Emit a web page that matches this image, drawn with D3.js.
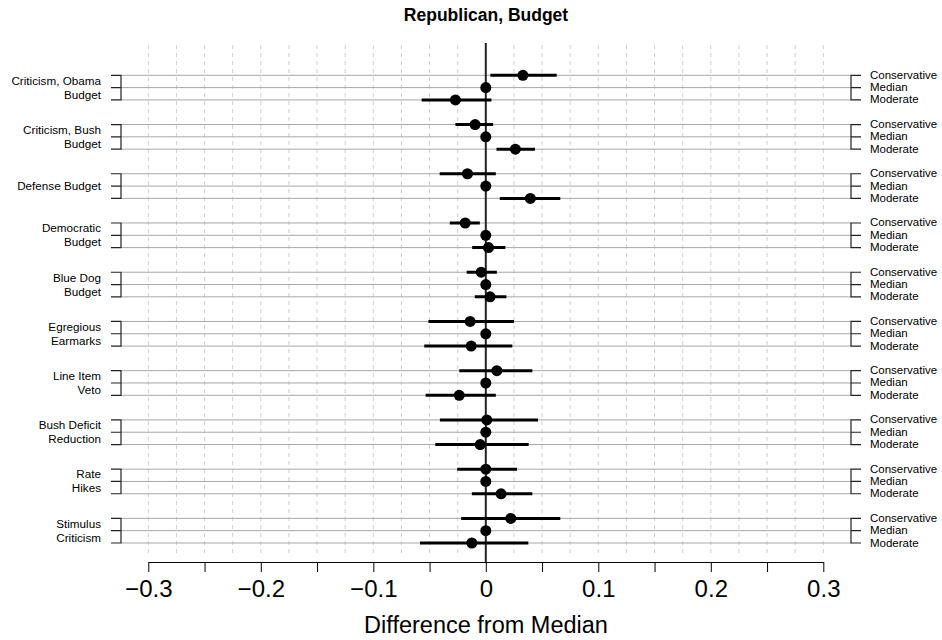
<!DOCTYPE html>
<html>
<head>
<meta charset="utf-8">
<script src="https://cdnjs.cloudflare.com/ajax/libs/d3/7.8.5/d3.min.js"></script>
<style>
    body { margin: 0; background: #fff; }
    svg { font-family: "Liberation Sans", Arial, Helvetica, sans-serif; }
</style>
</head>
<body>
<svg id="chart" width="942" height="640"></svg>
<script>
var issueLabels = [
    ["Criticism, Obama", "Budget"],
    ["Criticism, Bush", "Budget"],
    ["Defense Budget"],
    ["Democratic", "Budget"],
    ["Blue Dog", "Budget"],
    ["Egregious", "Earmarks"],
    ["Line Item", "Veto"],
    ["Bush Deficit", "Reduction"],
    ["Rate", "Hikes"],
    ["Stimulus", "Criticism"]
];
var groupLabels = ["Conservative", "Median", "Moderate"];

// estimates and interval ends, one entry per issue
var consEst = [0.033, -0.0095, -0.0163, -0.0183, -0.0041, -0.0139, 0.0098, 0.0009, 0.0, 0.0222];
var consLo = [0.004, -0.027, -0.041, -0.032, -0.017, -0.051, -0.0236, -0.0408, -0.0254, -0.0219];
var consHi = [0.063, 0.0065, 0.0089, -0.0053, 0.0098, 0.0251, 0.0414, 0.0464, 0.0278, 0.0662];
var medEst = [0, 0, 0, 0, 0, 0, 0, 0, 0, 0];
var modEst = [-0.027, 0.0263, 0.0396, 0.0024, 0.0038, -0.013, -0.0236, -0.005, 0.0136, -0.0124];
var modLo = [-0.057, 0.0095, 0.0124, -0.0121, -0.0098, -0.0547, -0.0535, -0.0449, -0.0124, -0.0585];
var modHi = [0.005, 0.0437, 0.0662, 0.0174, 0.0183, 0.0236, 0.0089, 0.0381, 0.0414, 0.0378];

var xTicks = [-0.3, -0.25, -0.2, -0.15, -0.1, -0.05, 0, 0.05, 0.1, 0.15, 0.2, 0.25, 0.3];
var xLabelTicks = [-0.3, -0.2, -0.1, 0, 0.1, 0.2, 0.3];
var gridTicks = [-0.3, -0.275, -0.25, -0.225, -0.2, -0.175, -0.15, -0.125, -0.1, -0.075, -0.05, -0.025,
    0.025, 0.05, 0.075, 0.1, 0.125, 0.15, 0.175, 0.2, 0.225, 0.25, 0.275, 0.3];

var svg = d3.select("#chart");

var x = d3.scaleLinear().domain([-0.3, 0.3]).range([148.3, 823.3]);
var y = d3.scaleLinear().domain([0, 38]).range([75.3, 543]);

var rows = [];
for (i = 0; i < issueLabels.length; i++) {
    rows.push({ issue: i, k: 0, est: consEst[i], lo: consLo[i], hi: consHi[i] });
    rows.push({ issue: i, k: 1, est: medEst[i], lo: null, hi: null });
    rows.push({ issue: i, k: 2, est: modEst[i], lo: modLo[i], hi: modHi[i] });
}
function rowY(d) { return y(d.issue * 4 + d.k); }

// title
svg.append("text")
    .attr("x", 486)
    .attr("y", 21)
    .attr("text-anchor", "middle")
    .attr("font-size", "17.5px")
    .attr("font-weight", "bold")
    .text("Republican, Budget");

// dashed grid
svg.append("g").selectAll("line")
    .data(gridTicks)
    .enter().append("line")
    .attr("x1", function (d) { return x(d); })
    .attr("x2", function (d) { return x(d); })
    .attr("y1", 45)
    .attr("y2", 557)
    .attr("stroke", "#cfcfcf")
    .attr("stroke-width", 1)
    .attr("stroke-dasharray", "4,4");

// row lines
svg.append("g").selectAll("line")
    .data(rows)
    .enter().append("line")
    .attr("x1", 121)
    .attr("x2", 851)
    .attr("y1", rowY)
    .attr("y2", rowY)
    .attr("stroke", "#a8a8a8")
    .attr("stroke-width", 1);

// brackets on both sides
var brackets = svg.append("g")
    .attr("stroke", "#222")
    .attr("stroke-width", 1.2)
    .attr("fill", "none");
issueLabels.forEach(function (lab, i) {
    var y0 = y(i * 4), y1 = y(i * 4 + 1), y2 = y(i * 4 + 2);
    brackets.append("path")
        .attr("d", "M111," + y0 + "H121V" + y2 + "H111M111," + y1 + "H121");
    brackets.append("path")
        .attr("d", "M861," + y0 + "H851V" + y2 + "H861M861," + y1 + "H851");
});

// left issue labels
var left = svg.append("g")
    .attr("font-size", "11.7px")
    .attr("fill", "#000")
    .attr("text-anchor", "end");
issueLabels.forEach(function (lab, i) {
    var mid = y(i * 4 + 1);
    lab.forEach(function (line, j) {
        left.append("text")
            .attr("x", 101)
            .attr("y", mid + 4 + (j - (lab.length - 1) / 2) * 14)
            .text(line);
    });
});

// right group labels
svg.append("g").selectAll("text")
    .data(rows)
    .enter().append("text")
    .attr("x", 870)
    .attr("y", function (d) { return rowY(d) + 3.5; })
    .attr("font-size", "11.5px")
    .text(function (d) { return groupLabels[d.k]; });

// zero line
svg.append("line")
    .attr("x1", x(0))
    .attr("x2", x(0))
    .attr("y1", 43)
    .attr("y2", 562)
    .attr("stroke", "#222")
    .attr("stroke-width", 2);

// intervals
svg.append("g").selectAll("line")
    .data(rows.filter(function (d) { return d.lo !== null; }))
    .enter().append("line")
    .attr("x1", function (d) { return x(d.lo); })
    .attr("x2", function (d) { return x(d.hi); })
    .attr("y1", rowY)
    .attr("y2", rowY)
    .attr("stroke", "#000")
    .attr("stroke-width", 3);

// points
svg.append("g").selectAll("circle")
    .data(rows)
    .enter().append("circle")
    .attr("cx", function (d) { return x(d.est); })
    .attr("cy", rowY)
    .attr("r", 5.5)
    .attr("fill", "#000");

// x axis
var axis = svg.append("g")
    .attr("transform", "translate(0,562)")
    .call(d3.axisBottom(x)
        .tickValues(xTicks)
        .tickSizeInner(10)
        .tickSizeOuter(0)
        .tickPadding(8)
        .tickFormat(function (d) {
            var hit = xLabelTicks.some(function (t) { return Math.abs(t - d) < 1e-9; });
            if (!hit) return "";
            if (Math.abs(d) < 1e-9) return "0";
            return d3.format(".1f")(d);
        }));
axis.selectAll("text")
    .attr("font-size", "24px")
    .attr("font-family", "Liberation Sans, Arial, sans-serif")
    .attr("fill", "#000");
axis.selectAll("line, path").attr("stroke", "#000");

svg.append("text")
    .attr("x", 486)
    .attr("y", 633)
    .attr("text-anchor", "middle")
    .attr("font-size", "23.5px")
    .text("Difference from Median");
</script>
</body>
</html>
